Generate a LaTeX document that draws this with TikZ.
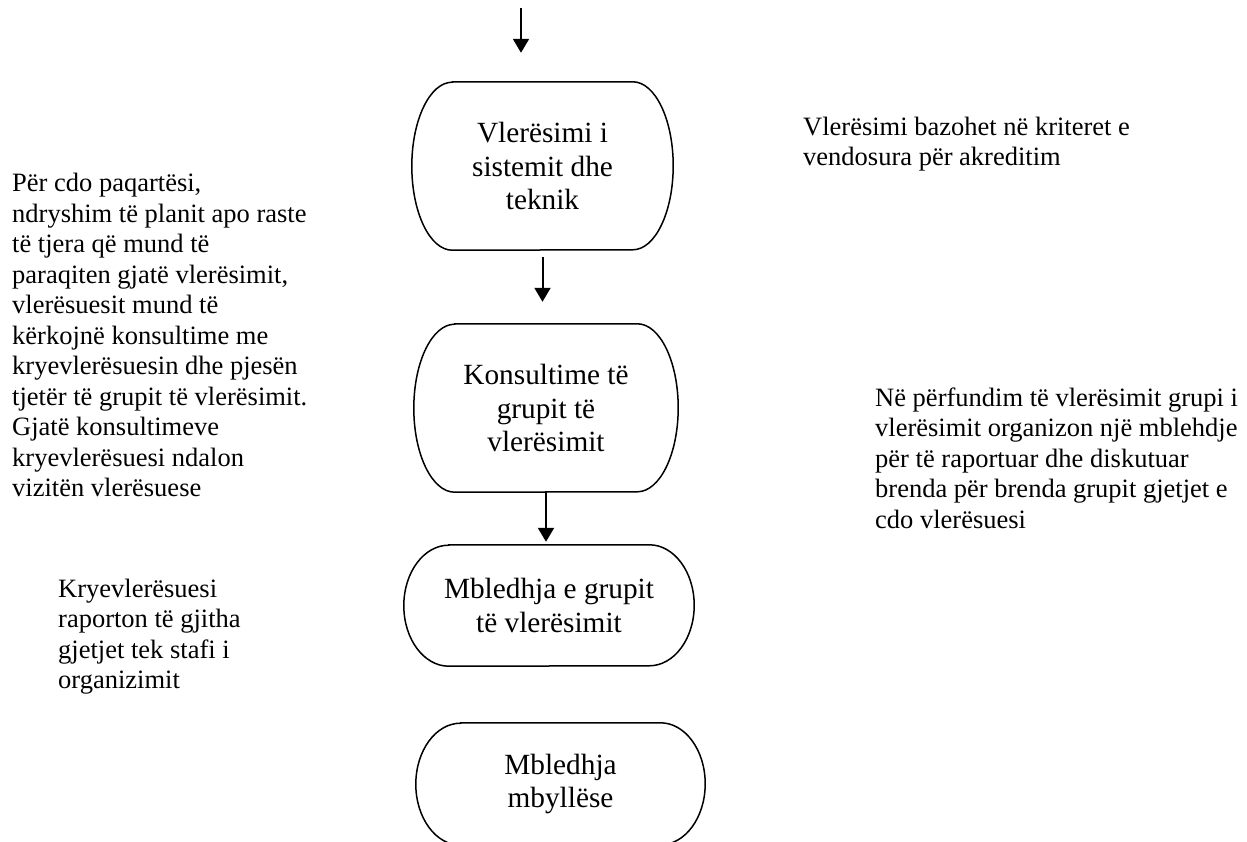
\documentclass[tikz,border=0pt]{standalone}
\usepackage{fontspec}
\setmainfont{Liberation Serif}
\usetikzlibrary{arrows.meta,calc}
\tikzset{
  termtext/.style={draw=none, inner sep=0pt, align=center, font=\fontsize{29.3}{33.7}\selectfont},
  outline/.style={draw=black, line width=1.5pt},
  sidetext/.style={inner sep=0pt, align=left, anchor=north west, font=\fontsize{26.5}{30.5}\selectfont},
  arr/.style={line width=2pt, -{Triangle[width=16pt,length=14pt]}}
}
% name, cx, Y (y-up), w, h, text
\newcommand\termbox[6]{%
  \node[termtext, minimum width=#4pt, minimum height=#5pt] (#1) at (#2,#3) {#6};
  \pgfmathsetmacro\myrx{0.155*#4}%
  \pgfmathsetmacro\myry{0.5*#5}%
  \draw[outline] ([xshift=\myrx pt]#1.north west) -- ([xshift=-\myrx pt]#1.north east)
    arc[start angle=90, end angle=-90, x radius=\myrx pt, y radius=\myry pt]
    -- ([xshift=\myrx pt]#1.south west)
    arc[start angle=270, end angle=90, x radius=\myrx pt, y radius=\myry pt] -- cycle;
}
\begin{document}
\begin{tikzpicture}[x=1pt,y=1pt]
\useasboundingbox[fill=white] (0,0) rectangle (1247,841);

\termbox{s1}{542.5}{675}{261}{168}{Vlerësimi i\\sistemit dhe\\teknik}
\termbox{s2}{546}{433}{264}{168}{Konsultime të\\grupit të\\vlerësimit}
\termbox{s3}{549}{235.5}{290}{121}{Mbledhja e grupit\\të vlerësimit}
\termbox{s4}{560.5}{57}{289}{122}{Mbledhja\\mbyllëse}

\coordinate (top) at (521,833);
\draw[arr, shorten >=29pt] (top) -- (top |- s1.north);
\draw[arr, shorten <=7pt, shorten >=22pt] (s1.south) -- (s1.south |- s2.north);
\draw[arr, shorten >=3pt] (s2.south) -- (s2.south |- s3.north);

\node[sidetext] (t1) at (12,669.3) {\rule{0pt}{20pt}Për cdo paqartësi,\\ndryshim të planit apo raste\\të tjera që mund të\\paraqiten gjatë vlerësimit,\\vlerësuesit mund të\\kërkojnë konsultime me\\kryevlerësuesin dhe pjesën\\tjetër të grupit të vlerësimit.\\Gjatë konsultimeve\\kryevlerësuesi ndalon\\vizitën vlerësuese};
\node[sidetext] (t2) at (58,264) {\rule{0pt}{20pt}Kryevlerësuesi\\raporton të gjitha\\gjetjet tek stafi i\\organizimit};
\node[sidetext] (t3) at (803,726) {\rule{0pt}{20pt}Vlerësimi bazohet në kriteret e\\vendosura për akreditim};
\node[sidetext] (t4) at (875,455) {\rule{0pt}{20pt}Në përfundim të vlerësimit grupi i\\vlerësimit organizon një mblehdje\\për të raportuar dhe diskutuar\\brenda për brenda grupit gjetjet e\\cdo vlerësuesi};
\end{tikzpicture}
\end{document}
